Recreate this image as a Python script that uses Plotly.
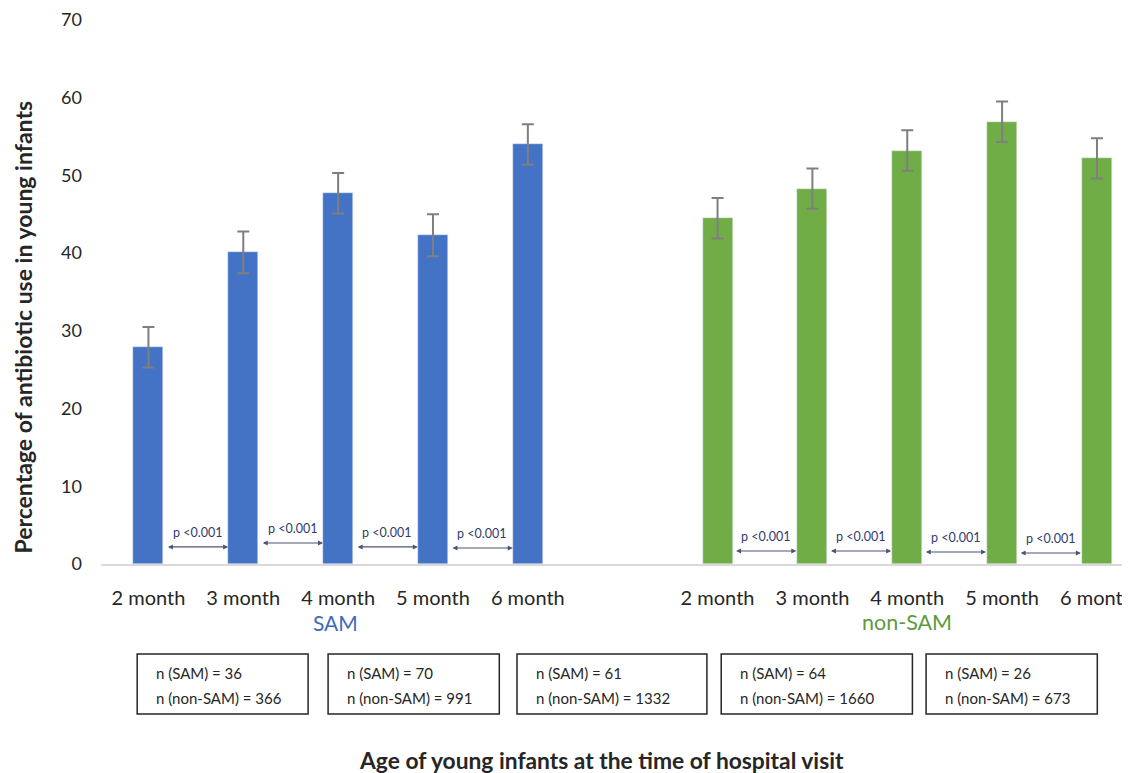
import plotly.graph_objects as go

# ---------------- data ----------------
categories = ["2 month", "3 month", "4 month", "5 month", "6 month"]
sam_values = [27.9, 40.1, 47.7, 42.3, 54.0]
sam_err = [2.6, 2.7, 2.6, 2.7, 2.6]
nonsam_values = [44.5, 48.3, 53.2, 56.9, 52.2]
nonsam_err = [2.6, 2.6, 2.6, 2.6, 2.6]
n_sam = [36, 70, 61, 64, 26]
n_nonsam = [366, 991, 1332, 1660, 673]
p_label = "p <0.001"
y_ticks = [0, 10, 20, 30, 40, 50, 60, 70]

# ---------------- layout constants (screen pixels) ----------------
OFF = 8                      # default page margin around the plot div
SCREEN_W, SCREEN_H = 1130, 773
W, H = SCREEN_W - OFF, SCREEN_H - OFF
PLOT_LEFT, PLOT_TOP, PLOT_BOTTOM = 100.5, 20, 564      # screen coords
ML, MT = PLOT_LEFT - OFF, PLOT_TOP - OFF
PW = W - ML
PH = PLOT_BOTTOM - PLOT_TOP
SLOT = 94.9
FONT = "Lato, Carlito, 'Open Sans', sans-serif"
BLUE = "#4472C4"
GREEN = "#70AD47"
TXT = "#262626"

sam_x = list(range(len(categories)))
nonsam_x = [i + len(categories) + 1 for i in range(len(categories))]
x_max = (PW / SLOT) - 0.5


def px_x(p):
    return (p - PLOT_LEFT) / PW


def px_y(p):
    return (PLOT_BOTTOM - p) / PH


fig = go.Figure()
fig.add_trace(go.Bar(
    x=sam_x, y=sam_values, width=0.316, marker_color=BLUE, name="SAM",
    error_y=dict(type="data", array=sam_err, color="#7F7F7F", thickness=2, width=6),
))
fig.add_trace(go.Bar(
    x=nonsam_x, y=nonsam_values, width=0.316, marker_color=GREEN, name="non-SAM",
    error_y=dict(type="data", array=nonsam_err, color="#7F7F7F", thickness=2, width=6),
))

annotations = []
# p-value arrows
sam_arrow_y = [2.2, 2.7, 2.2, 2.05]
nonsam_arrow_y = [1.67, 1.67, 1.54, 1.41]
for xs, ays, start, end in ((sam_x, sam_arrow_y, 0.19, 0.84), (nonsam_x, nonsam_arrow_y, 0.18, 0.83)):
    for i in range(len(xs) - 1):
        x0 = xs[i] + start
        x1 = xs[i] + end
        yy = ays[i]
        annotations.append(dict(
            x=x1, y=yy, ax=x0, ay=yy, xref="x", yref="y", axref="x", ayref="y",
            showarrow=True, arrowside="end+start", arrowhead=2, arrowsize=0.9,
            arrowwidth=1.1, arrowcolor="#4B5473", text="",
        ))
        annotations.append(dict(
            x=(x0 + x1) / 2, y=yy + 1.85, xref="x", yref="y", text=p_label,
            showarrow=False, font=dict(family=FONT, size=12.5, color="#2F3B6B"),
            xanchor="center", yanchor="middle",
        ))

# group labels
annotations.append(dict(x=(sam_x[1] + sam_x[2]) / 2 + 0.47, y=px_y(622), xref="x", yref="paper",
                        text="SAM", showarrow=False, font=dict(family=FONT, size=21, color="#3F6CB8"),
                        xanchor="center", yanchor="middle"))
annotations.append(dict(x=nonsam_x[2], y=px_y(622), xref="x", yref="paper",
                        text="non-SAM", showarrow=False, font=dict(family=FONT, size=21.5, color="#5E9A3C"),
                        xanchor="center", yanchor="middle"))

# n boxes (screen coords)
box_lr = [(136.7, 307.7), (327.7, 499.0), (516.7, 706.7), (721.0, 912.3), (926.0, 1097.3)]
shapes = []
for (l, r), ns, nn in zip(box_lr, n_sam, n_nonsam):
    shapes.append(dict(type="rect", xref="paper", yref="paper",
                       x0=px_x(l), x1=px_x(r), y0=px_y(714), y1=px_y(654),
                       line=dict(color=TXT, width=1.5), fillcolor="rgba(0,0,0,0)"))
    annotations.append(dict(x=px_x(l + 17), y=px_y(673), xref="paper", yref="paper",
                            text=f"n (SAM) = {ns}", showarrow=False, xanchor="left", yanchor="middle",
                            font=dict(family=FONT, size=15, color=TXT)))
    annotations.append(dict(x=px_x(l + 17), y=px_y(698), xref="paper", yref="paper",
                            text=f"n (non-SAM) = {nn}", showarrow=False, xanchor="left", yanchor="middle",
                            font=dict(family=FONT, size=15, color=TXT)))

# axis titles
annotations.append(dict(x=px_x(22), y=px_y(327), xref="paper", yref="paper",
                        text="<b>Percentage of antibiotic use in young infants</b>", textangle=-90,
                        showarrow=False, xanchor="center", yanchor="middle",
                        font=dict(family=FONT, size=23, color=TXT)))
annotations.append(dict(x=px_x(601), y=px_y(760), xref="paper", yref="paper",
                        text="<b>Age of young infants at the time of hospital visit</b>",
                        showarrow=False, xanchor="center", yanchor="middle",
                        font=dict(family=FONT, size=22.8, color=TXT)))

fig.update_layout(
    width=W, height=H, autosize=False,
    margin=dict(l=ML, r=0, t=MT, b=H - (PLOT_BOTTOM - OFF), pad=0),
    paper_bgcolor="white", plot_bgcolor="white",
    showlegend=False, bargap=0,
    annotations=annotations, shapes=shapes,
    font=dict(family=FONT, color=TXT),
)
fig.update_xaxes(
    range=[-0.5, x_max], tickmode="array",
    tickvals=sam_x + nonsam_x, ticktext=categories + categories,
    showgrid=False, zeroline=False, showline=True, linecolor="#D9D9D9", linewidth=1.5,
    ticks="", tickfont=dict(family=FONT, size=20, color=TXT), ticklabelstandoff=15,
    ticklabeloverflow="allow", automargin=False, fixedrange=True,
)
fig.update_yaxes(
    range=[0, 70], tickmode="array", tickvals=y_ticks,
    showgrid=False, zeroline=False, showline=False, ticks="",
    tickfont=dict(family=FONT, size=18, color=TXT), ticklabelstandoff=18,
    automargin=False, fixedrange=True,
)

fig.write_html("out.html", config={"displayModeBar": False})
